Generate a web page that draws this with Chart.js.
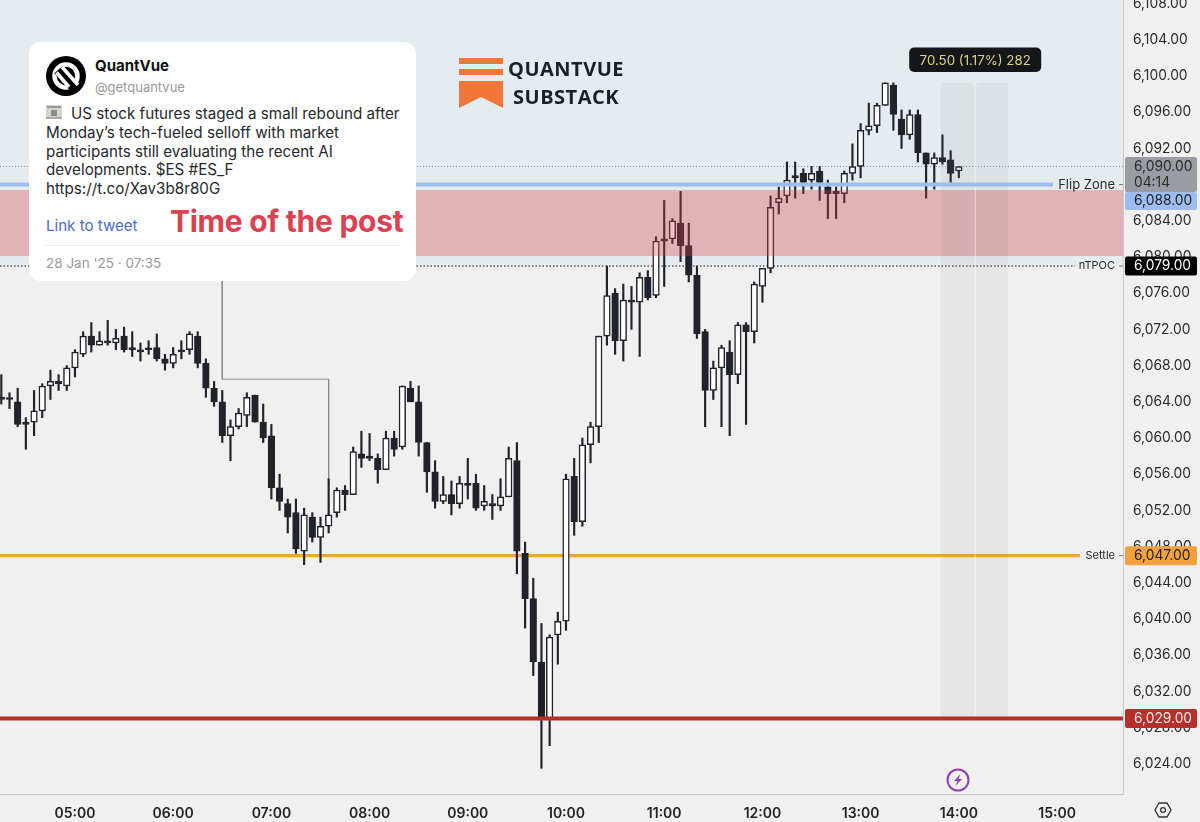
<!DOCTYPE html>
<html lang="en">
<head>
  <meta charset="UTF-8">
  <title>QuantVue ES futures</title>
  <script src="https://cdn.jsdelivr.net/npm/chart.js"></script>
  <style>
    html, body { margin: 0; padding: 0; background: #f0f0f0; overflow: hidden; }
    #wrap { position: relative; width: 1200px; height: 822px; font-family: Inter, Arial, sans-serif; }
    canvas { position: absolute; left: 0; top: 0; }
    .card { position: absolute; left: 29px; top: 42px; width: 387px; height: 239px; background: #fff; border-radius: 12px; }
    .card div { position: absolute; white-space: nowrap; }
    .name { left: 66px; top: 14px; font-size: 15px; font-weight: 700; color: #111; }
    .handle { left: 66px; top: 37px; font-size: 13px; color: #9a9a9a; }
    .body { left: 17px; top: 63px; font-size: 15.2px; line-height: 18.8px; color: #26292e; }
    .body span { display: inline-block; width: 25px; }
    .link { left: 17px; top: 174px; font-size: 15.1px; color: #4a6bd6; }
    .post { left: 141px; top: 161px; font-size: 30px; font-weight: 700; color: #dd4150; letter-spacing: -0.27px; }
    .rule { left: 17px; top: 203px; width: 353px; height: 1px; background: #ececec; }
    .date { left: 17px; top: 213px; font-size: 13.5px; color: #9a9a9a; }
    .brand { position: absolute; font-family: "Open Sans", Arial, sans-serif; font-weight: 700; font-size: 20px; color: #1b1f26; letter-spacing: 0.5px; white-space: nowrap; }
    svg { position: absolute; }
  </style>
</head>
<body>
<div id="wrap">
  <canvas id="chart" width="1200" height="822"></canvas>

  <div class="card">
    <svg style="left:17px;top:14px" width="40" height="40" viewBox="0 0 40 40">
      <circle cx="20" cy="20" r="20" fill="#000"/>
      <circle cx="20" cy="20" r="11.5" fill="none" stroke="#fff" stroke-width="4.5"/>
      <path d="M12 14 L30 34" stroke="#000" stroke-width="10"/>
      <path d="M10.5 16.5 L23 31 M16 11 L32 29" stroke="#fff" stroke-width="3.6"/>
    </svg>
    <div class="name">QuantVue</div>
    <div class="handle">@getquantvue</div>
    <svg style="left:17px;top:63px" width="16" height="14" viewBox="0 0 16 14">
      <rect width="16" height="14" fill="#d5d5d0"/>
      <rect x="1" y="1" width="14" height="2" fill="#999"/>
      <rect x="5" y="5" width="6" height="6" fill="#8c8c8c"/>
      <rect x="0" y="12" width="16" height="2" fill="#aaa"/>
    </svg>
    <div class="body"><span></span>US stock futures staged a small rebound after<br>Monday’s tech-fueled selloff with market<br>participants still evaluating the recent AI<br>developments. $ES #ES_F<br>https://t.co/Xav3b8r80G</div>
    <div class="link">Link to tweet</div>
    <div class="post">Time of the post</div>
    <div class="rule"></div>
    <div class="date">28 Jan '25 · 07:35</div>
  </div>

  <svg style="left:459px;top:58px" width="44" height="50" viewBox="0 0 44 50">
    <rect width="44" height="6" fill="#f2763a"/>
    <rect y="11" width="44" height="6" fill="#f2763a"/>
    <path d="M0 23 H44 V50 L22 39 L0 50 Z" fill="#f2763a"/>
  </svg>
  <div class="brand" style="left:508px;top:55px">QUANTVUE</div>
  <div class="brand" style="left:513px;top:83px">SUBSTACK</div>

  <svg style="left:946px;top:768px" width="24" height="24" viewBox="0 0 24 24">
    <circle cx="12" cy="12" r="10.5" fill="none" stroke="#8e3fb0" stroke-width="2"/>
    <path d="M14.5 6 L8 13 H11.5 L9.5 18 L16 11 H12.5 Z" fill="#8e3fb0"/>
  </svg>
  <svg style="left:1154px;top:801px" width="18" height="18" viewBox="0 0 18 18">
    <path d="M5 2 H13 L17 9 L13 16 H5 L1 9 Z" fill="none" stroke="#333" stroke-width="1.3"/>
    <circle cx="9" cy="9" r="2.4" fill="none" stroke="#333" stroke-width="1.3"/>
  </svg>
</div>

<script>
  const times = [
    '04:15','04:20','04:25','04:30','04:35','04:40','04:45','04:50','04:55','05:00','05:05','05:10',
    '05:15','05:20','05:25','05:30','05:35','05:40','05:45','05:50','05:55','06:00','06:05','06:10',
    '06:15','06:20','06:25','06:30','06:35','06:40','06:45','06:50','06:55','07:00','07:05','07:10',
    '07:15','07:20','07:25','07:30','07:35','07:40','07:45','07:50','07:55','08:00','08:05','08:10',
    '08:15','08:20','08:25','08:30','08:35','08:40','08:45','08:50','08:55','09:00','09:05','09:10',
    '09:15','09:20','09:25','09:30','09:35','09:40','09:45','09:50','09:55','10:00','10:05','10:10',
    '10:15','10:20','10:25','10:30','10:35','10:40','10:45','10:50','10:55','11:00','11:05','11:10',
    '11:15','11:20','11:25','11:30','11:35','11:40','11:45','11:50','11:55','12:00','12:05','12:10',
    '12:15','12:20','12:25','12:30','12:35','12:40','12:45','12:50','12:55','13:00','13:05','13:10',
    '13:15','13:20','13:25','13:30','13:35','13:40','13:45','13:50','13:55','14:00'
  ];
  const opens = [
    6064.5,6064.25,6064,6061.75,6061.75,6063,6065.75,6066.25,6065.75,6067.75,
    6069.25,6071.25,6070.25,6070.75,6070.5,6071.25,6070,6069.75,6069.75,6070,
    6068.75,6068.25,6069.75,6069.75,6071.25,6068.25,6065.5,6064,6060.25,6061.25,
    6062.5,6064.75,6061.75,6060.25,6054.5,6052.75,6051.75,6047.5,6051.25,6049,
    6050.25,6051.75,6054.25,6053.75,6058.25,6058,6057.75,6056.5,6060,6059,
    6065.5,6064,6059.5,6056.25,6053,6053.75,6052.75,6055,6055,6052.5,
    6052.75,6052.5,6053.5,6057.5,6047.25,6042.25,6035.25,6029,6038.25,6039.75,
    6055.75,6050.75,6059.25,6061.25,6071.25,6076,6070.75,6075.25,6075,6077.75,
    6075.75,6082,6082,6083.75,6081.25,6078,6071.75,6065.25,6067.75,6069.5,
    6067,6072.5,6071.75,6076.75,6078.75,6086,6086.75,6089,6089.25,6088.5,
    6089.5,6087.75,6087.25,6087,6089.25,6090,6094,6094.5,6096.75,6099,
    6095.25,6093.5,6095.75,6091.5,6090.25,6091,6090.75,6089.5
  ];
  const highs = [
    6067,6065,6065.5,6062.25,6065.25,6066,6067.5,6067,6068,6069.75,
    6071.75,6072.75,6071.75,6073,6072,6072.25,6071.75,6070.5,6070.75,6071.5,
    6069.25,6070,6070.75,6071.75,6071.75,6068.75,6066.25,6065.25,6062,6063.25,
    6065,6064.75,6063.75,6061.5,6056,6053.25,6053.25,6052.25,6051.75,6051.25,
    6055.5,6054.5,6054.75,6059,6060.75,6060.5,6058.25,6060.75,6060.75,6065.75,
    6066.25,6065.75,6059.5,6057.5,6055.75,6055.25,6055.75,6057.75,6056,6054.75,
    6053.75,6055.5,6059,6059.5,6048.5,6044.5,6039.5,6038.25,6040.75,6056,
    6057.75,6060,6061.75,6071.25,6079,6076.5,6077,6076.75,6078.25,6078.5,
    6082.25,6086.25,6084.25,6087.25,6083.75,6079,6072,6068.5,6070.25,6070.75,
    6072.75,6072.75,6077.25,6078.75,6086.75,6087.75,6090.5,6090.5,6089.75,6090,
    6090,6088.5,6087.75,6089.5,6092.5,6094.75,6097,6097,6099.25,6099.25,
    6096.25,6096.25,6096.25,6091.5,6091.5,6093.5,6091.75,6090
  ];
  const lows = [
    6063.75,6063.25,6061.25,6058.75,6060.25,6062.25,6064.25,6065.25,6065.25,6066.75,
    6069,6069.5,6070.25,6070.25,6069.75,6069.5,6069,6068.5,6069.25,6068.5,
    6067.5,6067.75,6068.75,6069.25,6067.75,6064.5,6063.5,6059.5,6057.5,6061,
    6061.25,6061.75,6059.5,6053.25,6052,6049.5,6047.25,6046,6048.5,6046.25,
    6049.5,6051.25,6052,6053.75,6056.75,6057.5,6055,6056.5,6058,6058.75,
    6064,6058,6054,6052.25,6052.75,6051.5,6052.25,6053.25,6052,6052,
    6051,6052,6053.5,6045,6039,6033.75,6023.5,6026,6035,6038.75,
    6049.25,6050.25,6057.25,6059.5,6070.25,6069.25,6068.5,6072,6069,6075.25,
    6075.5,6076.75,6081.5,6079.5,6077.25,6071,6061.25,6064.25,6061.25,6060.25,
    6066,6061.5,6070.5,6075,6078.25,6084.75,6086,6086.5,6087,6087.5,
    6086.25,6084.25,6084.25,6086,6088.5,6088.75,6093.5,6093.75,6096.75,6094,
    6092,6093,6090.5,6086.5,6087.5,6090.25,6088.25,6088.75
  ];
  const closes = [
    6064.25,6064.25,6061.5,6061.5,6063,6065.75,6066.25,6066,6067.75,6069.5,
    6071.25,6070.25,6070.75,6070.5,6071,6069.75,6069.75,6069.5,6069.75,6068.75,
    6068.25,6069.25,6069.5,6071.5,6068.25,6065.5,6064,6060.25,6061.25,6062.75,
    6064.5,6061.75,6060,6054.5,6053,6051.25,6047.75,6051.5,6049,6050.25,
    6051.5,6054.25,6053.75,6058.5,6057.75,6057.75,6056.5,6060,6058.75,6065.75,
    6064,6059.5,6056.25,6053,6053.75,6052.75,6055,6054.75,6052.25,6053,
    6052.5,6053.5,6057.75,6047.5,6042.25,6035.25,6029,6038,6039.75,6055.5,
    6050.75,6059.25,6061.25,6071.25,6075.75,6070.75,6075.25,6075,6077.75,6075.5,
    6081.75,6081.75,6084,6081.25,6078,6071.5,6065.25,6067.75,6070,6067,
    6072.5,6071.75,6077,6078.75,6085.5,6086.5,6088.5,6088.75,6088.25,6089.25,
    6088.25,6087,6087,6089.25,6090,6094,6094.5,6096.75,6099.25,6095.75,
    6093.5,6095.75,6091.5,6090.25,6091,6090.5,6089.25,6090
  ];
  const priceTicks = [6108,6104,6100,6096,6092,6088,6084,6080,6076,6072,6068,6064,6060,6056,6052,6048,6044,6040,6036,6032,6028,6024];
  const timeTicks = ['05:00','06:00','07:00','08:00','09:00','10:00','11:00','12:00','13:00','14:00','15:00'];

  // the elbow line from the post down to its candle
  const postLineX = ['06:30','06:30','07:35','07:35'];
  const postLineY = [6080,6066.5,6066.5,6055.5];

  const lastPrice = 6090, flipZone = 6088, nTPOC = 6079, settle = 6047, lowLevel = 6029;
  const zoneTop = 6087.4, zoneBottom = 6080.1;
  const measureFrom = '13:49', measureTo = '14:30', measureMid = '14:10', measureLow = 6029, measureHigh = 6099.25;

  const toMin = t => +t.slice(0, 2) * 60 + +t.slice(3);
  const money = v => v.toLocaleString('en-US', { minimumFractionDigits: 2, maximumFractionDigits: 2 });

  const FONT = 'Inter, Arial, sans-serif';
  const INK = '#20232c';

  function hline(ctx, x1, x2, y, color, width, dash) {
    ctx.save();
    ctx.beginPath();
    ctx.setLineDash(dash || []);
    ctx.strokeStyle = color;
    ctx.lineWidth = width;
    ctx.moveTo(x1, y);
    ctx.lineTo(x2, y);
    ctx.stroke();
    ctx.restore();
  }

  function flag(ctx, y, h, bg, fg, lines) {
    ctx.save();
    ctx.fillStyle = bg;
    ctx.beginPath();
    ctx.roundRect(1125, y - h / 2, 72, h, 2);
    ctx.fill();
    ctx.fillStyle = fg;
    ctx.font = '13.8px ' + FONT;
    ctx.textAlign = 'left';
    ctx.textBaseline = 'middle';
    lines.forEach((t, i) => ctx.fillText(t, 1134, y - (lines.length - 1) * 8 + i * 16));
    ctx.restore();
  }

  function levelText(ctx, text, y, size) {
    ctx.save();
    ctx.fillStyle = '#2a2a2a';
    ctx.font = size + 'px ' + FONT;
    ctx.textAlign = 'right';
    ctx.textBaseline = 'middle';
    ctx.fillText(text, 1115, y);
    ctx.restore();
    hline(ctx, 1119, 1123, y, '#777', 1);
  }

  const overlays = {
    id: 'overlays',
    beforeDraw(chart) {
      const { ctx, chartArea: a, scales: { y } } = chart;
      ctx.save();
      ctx.fillStyle = '#e5ecef';
      ctx.fillRect(a.left, a.top, a.right - a.left, y.getPixelForValue(nTPOC) - a.top);
      ctx.restore();
    },
    beforeDatasetsDraw(chart) {
      const { ctx, scales: { y } } = chart;
      hline(ctx, 0, 1123, y.getPixelForValue(lastPrice), '#8b8f94', 1, [1, 2]);
      hline(ctx, 0, 1075, y.getPixelForValue(nTPOC), '#111', 1, [1.5, 2]);
      hline(ctx, 0, 1080, y.getPixelForValue(settle), '#f0a23c', 3.2);
    },
    afterDatasetsDraw(chart) {
      const { ctx, chartArea: a, scales: { x, y } } = chart;
      // zone goes over the candles, they show through it
      ctx.save();
      ctx.fillStyle = 'rgba(220,63,72,0.33)';
      const zt = y.getPixelForValue(zoneTop), zb = y.getPixelForValue(zoneBottom);
      ctx.fillRect(a.left, zt, a.right - a.left, zb - zt);

      const mx1 = x.getPixelForValue(toMin(measureFrom)), mx2 = x.getPixelForValue(toMin(measureTo));
      const my1 = y.getPixelForValue(measureHigh), my2 = y.getPixelForValue(measureLow);
      ctx.fillStyle = 'rgba(120,125,125,0.09)';
      ctx.fillRect(mx1, my1, mx2 - mx1, my2 - my1);
      const mid = x.getPixelForValue(toMin(measureMid));
      ctx.strokeStyle = 'rgba(255,255,255,0.5)';
      ctx.lineWidth = 1;
      ctx.beginPath();
      ctx.moveTo(mid, my2);
      ctx.lineTo(mid, my1);
      ctx.moveTo(mid - 4, my1 + 4);
      ctx.lineTo(mid, my1);
      ctx.lineTo(mid + 4, my1 + 4);
      ctx.stroke();
      ctx.restore();

      hline(ctx, 0, 1053, y.getPixelForValue(flipZone), '#9dbcef', 4);
      hline(ctx, 0, 1123, y.getPixelForValue(lowLevel), '#b5302a', 4);
    },
    afterDraw(chart) {
      const { ctx, scales: { x, y } } = chart;
      levelText(ctx, 'Flip Zone', y.getPixelForValue(flipZone), 13);
      levelText(ctx, 'nTPOC', y.getPixelForValue(nTPOC), 11);
      levelText(ctx, 'Settle', y.getPixelForValue(settle), 11);

      flag(ctx, y.getPixelForValue(nTPOC), 19, '#000', '#fff', [money(nTPOC)]);
      flag(ctx, y.getPixelForValue(settle), 19, '#f2a23c', '#222', [money(settle)]);
      flag(ctx, y.getPixelForValue(lowLevel), 19, '#b5302a', '#fbeaea', [money(lowLevel)]);
      flag(ctx, 174.5, 35, '#9a9ca3', '#2a2a2a', [money(lastPrice), '04:14']);
      flag(ctx, 201, 18, '#9dbcf0', '#222', [money(flipZone)]);

      // measure label
      const mid = x.getPixelForValue(toMin(measureMid));
      ctx.save();
      ctx.fillStyle = '#15161a';
      ctx.beginPath();
      ctx.roundRect(mid - 66, 47.5, 132, 24.5, 5);
      ctx.fill();
      ctx.fillStyle = '#ddd27c';
      ctx.font = '13.3px ' + FONT;
      ctx.textAlign = 'center';
      ctx.textBaseline = 'middle';
      ctx.fillText('70.50 (1.17%) 282', mid, 60.5);
      ctx.restore();
    }
  };

  new Chart(document.getElementById('chart'), {
    type: 'bar',
    data: {
      datasets: [
        {
          label: 'body',
          data: times.map((t, i) => ({ x: toMin(t), y: [opens[i], closes[i]] })),
          grouped: false,
          barThickness: 6.6,
          minBarLength: 2,
          borderWidth: 1.5,
          borderSkipped: false,
          borderColor: INK,
          backgroundColor: times.map((t, i) => closes[i] > opens[i] ? '#ffffff' : INK)
        },
        {
          label: 'wick',
          data: times.map((t, i) => ({ x: toMin(t), y: [lows[i], highs[i]] })),
          grouped: false,
          barThickness: 1.5,
          backgroundColor: INK
        },
        {
          type: 'line',
          label: 'post',
          data: postLineX.map((t, i) => ({ x: toMin(t), y: postLineY[i] })),
          borderColor: '#8a8a8a',
          borderWidth: 1,
          pointRadius: 0,
          tension: 0
        }
      ]
    },
    options: {
      responsive: false,
      animation: false,
      layout: { padding: 0 },
      plugins: { legend: { display: false }, tooltip: { enabled: false } },
      scales: {
        x: {
          type: 'linear',
          offset: false,
          min: 254.2,
          max: 940.3,
          grid: { display: false },
          border: { color: '#c9c9c9' },
          afterBuildTicks: s => { s.ticks = timeTicks.map(t => ({ value: toMin(t) })); },
          afterFit: s => { s.height = 28; s.paddingLeft = 0; s.paddingRight = 0; },
          ticks: {
            autoSkip: false,
            maxRotation: 0,
            padding: 3,
            color: '#222',
            font: { family: FONT, size: 14, weight: '600' },
            callback: v => timeTicks[(v - 300) / 60]
          }
        },
        y: {
          position: 'right',
          min: 6020.66,
          max: 6108.4,
          grid: { display: false },
          border: { color: '#c9c9c9' },
          afterBuildTicks: s => { s.ticks = priceTicks.map(v => ({ value: v })); },
          afterFit: s => { s.width = 77; s.paddingTop = 0; s.paddingBottom = 0; },
          ticks: {
            autoSkip: false,
            padding: 2,
            color: '#2a2a2a',
            font: { family: FONT, size: 13.8 },
            callback: v => money(v)
          }
        }
      }
    },
    plugins: [overlays]
  });
</script>
</body>
</html>
